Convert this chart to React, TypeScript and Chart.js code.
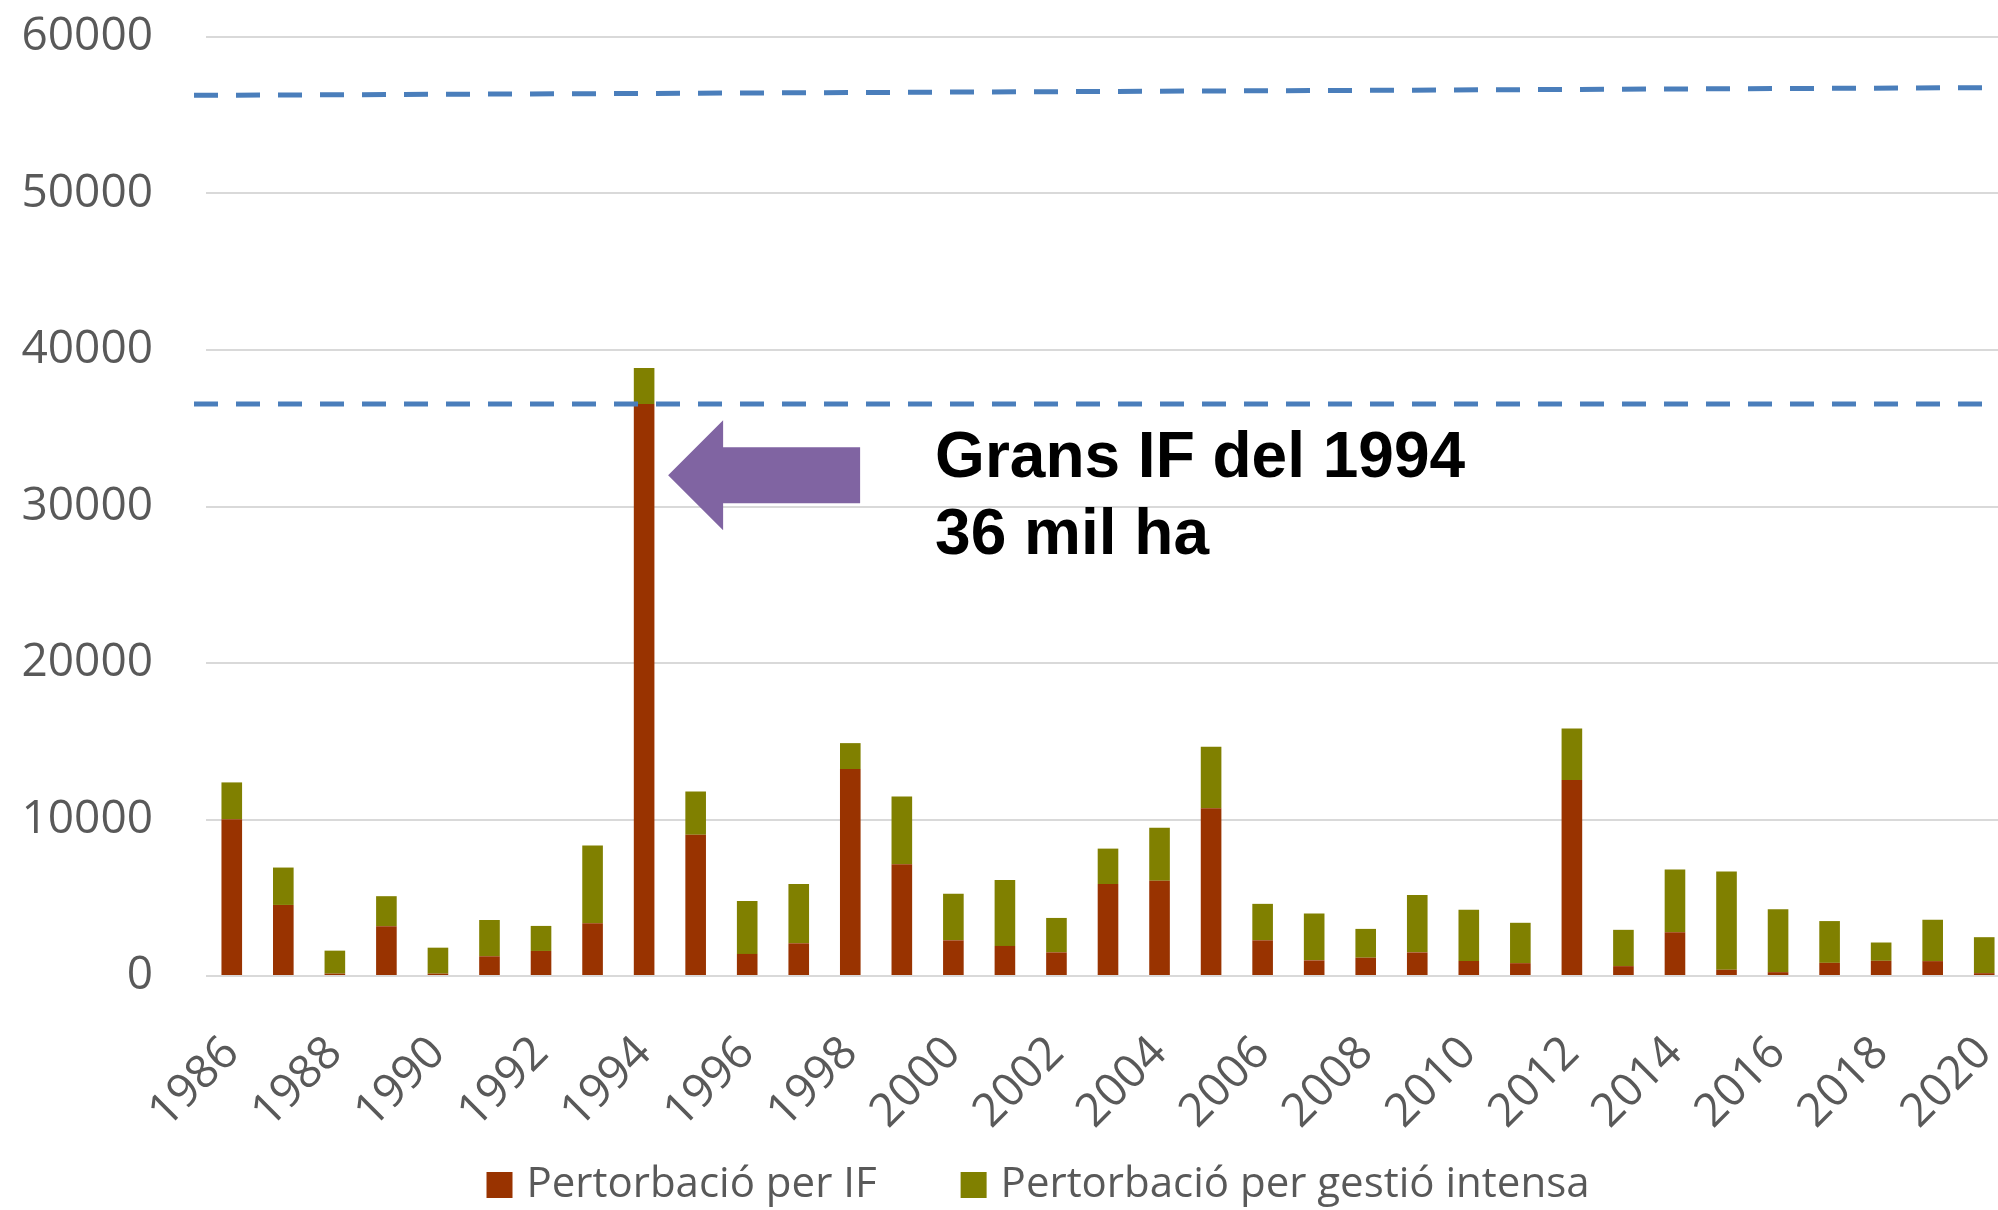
import React, { useEffect, useRef } from 'react';
import { Chart, registerables } from 'chart.js';

Chart.register(...registerables);

const years = [
  '1986', '1987', '1988', '1989', '1990', '1991', '1992', '1993', '1994', '1995',
  '1996', '1997', '1998', '1999', '2000', '2001', '2002', '2003', '2004', '2005',
  '2006', '2007', '2008', '2009', '2010', '2011', '2012', '2013', '2014', '2015',
  '2016', '2017', '2018', '2019', '2020',
];

// Pertorbació per incendis forestals (ha)
const fireDisturbance = [
  10020, 4540, 150, 3180, 150, 1260, 1600, 3370, 36550, 9020,
  1410, 2090, 13220, 7140, 2280, 1920, 1510, 5880, 6080, 10720,
  2280, 1000, 1170, 1510, 960, 820, 12520, 630, 2800, 400,
  245, 840, 970, 950, 180,
];

// Pertorbació per gestió intensa (ha)
const managementDisturbance = [
  2350, 2390, 1470, 1920, 1660, 2320, 1600, 4970, 2300, 2770,
  3390, 3790, 1660, 4330, 2970, 4220, 2200, 2260, 3390, 3930,
  2330, 2990, 1840, 3670, 3280, 2580, 3290, 2320, 4010, 6280,
  4025, 2670, 1170, 2640, 2300,
];

const yTickValues = [0, 10000, 20000, 30000, 40000, 50000, 60000];

// dashed reference lines: [value at left end, value at right end]
const upperRefLine = [56270, 56770];
const lowerRefLine = [36550, 36550];

const annotationYear = '1994';
const arrowValue = 32000;
const annotationLines = ['Grans IF del 1994', '36 mil ha'];

const seriesLabels = ['Pertorbació per IF', 'Pertorbació per gestió intensa'];
const seriesColors = ['#993300', '#808000'];

const TICK_COLOR = '#595959';
const FONT = '"Open Sans", "DejaVu Sans", sans-serif';

const overlayPlugin = {
  id: 'overlay',
  afterDatasetsDraw(chart: any) {
    const { ctx, chartArea, scales } = chart;
    const xs = scales.x;
    const ys = scales.y;
    ctx.save();

    // dashed reference lines
    ctx.strokeStyle = '#4a7ebb';
    ctx.lineWidth = 5;
    ctx.setLineDash([24, 18]);
    const xStart = chartArea.left - 12;
    const xEnd = chart.width;
    for (const ref of [upperRefLine, lowerRefLine]) {
      ctx.beginPath();
      ctx.moveTo(xStart, ys.getPixelForValue(ref[0]));
      ctx.lineTo(xEnd, ys.getPixelForValue(ref[1]));
      ctx.stroke();
    }
    ctx.setLineDash([]);

    // arrow
    const idx = years.indexOf(annotationYear);
    const cx = xs.getPixelForValue(idx);
    const cy = ys.getPixelForValue(arrowValue);
    ctx.fillStyle = '#8064a2';
    ctx.beginPath();
    ctx.moveTo(cx + 24, cy);
    ctx.lineTo(cx + 79, cy - 55);
    ctx.lineTo(cx + 79, cy - 28);
    ctx.lineTo(cx + 216, cy - 28);
    ctx.lineTo(cx + 216, cy + 28);
    ctx.lineTo(cx + 79, cy + 28);
    ctx.lineTo(cx + 79, cy + 55);
    ctx.closePath();
    ctx.fill();

    // annotation text
    ctx.fillStyle = '#000000';
    ctx.font = 'bold 64px "Liberation Sans", Arial, sans-serif';
    ctx.textAlign = 'left';
    ctx.textBaseline = 'alphabetic';
    ctx.fillText(annotationLines[0], cx + 291, cy + 2);
    ctx.fillText(annotationLines[1], cx + 291, cy + 79);
    ctx.restore();
  },
};

export default function App() {
  const canvasRef = useRef<HTMLCanvasElement | null>(null);

  useEffect(() => {
    if (!canvasRef.current) return;
    const chart = new Chart(canvasRef.current, {
      type: 'bar',
      data: {
        labels: years,
        datasets: [
          {
            label: seriesLabels[0],
            data: fireDisturbance,
            backgroundColor: seriesColors[0],
            borderWidth: 0,
            barPercentage: 0.4,
            categoryPercentage: 1,
          },
          {
            label: seriesLabels[1],
            data: managementDisturbance,
            backgroundColor: seriesColors[1],
            borderWidth: 0,
            barPercentage: 0.4,
            categoryPercentage: 1,
          },
        ],
      },
      options: {
        responsive: false,
        animation: false,
        devicePixelRatio: 1,
        layout: { padding: { top: 37, left: 73, right: 0, bottom: 0 } },
        plugins: {
          tooltip: { enabled: false },
          legend: {
            position: 'bottom',
            labels: {
              usePointStyle: true,
              pointStyle: 'rect',
              boxWidth: 12,
              boxHeight: 26,
              padding: 91,
              color: TICK_COLOR,
              font: { family: FONT, size: 42 },
            },
          },
        },
        scales: {
          x: {
            stacked: true,
            grid: { display: false, drawTicks: false },
            border: { display: false },
            ticks: {
              autoSkip: false,
              minRotation: 45,
              maxRotation: 45,
              padding: 50,
              color: TICK_COLOR,
              font: { family: FONT, size: 46 },
              callback: (_v: any, i: number) => (i % 2 === 0 ? years[i] : ''),
            },
            afterFit: (s: any) => {
              s.height = 97;
              s.paddingLeft = 0;
              s.paddingRight = 0;
              s._computeLabelArea = () => undefined;
            },
          },
          y: {
            stacked: true,
            min: yTickValues[0],
            max: yTickValues[yTickValues.length - 1],
            afterBuildTicks: (s: any) => {
              s.ticks = yTickValues.map((v) => ({ value: v }));
            },
            grid: { color: '#d9d9d9', lineWidth: 2, drawTicks: false },
            border: { display: false },
            ticks: {
              padding: 53,
              color: TICK_COLOR,
              font: { family: FONT, size: 46 },
              callback: (v: any) => String(v),
            },
            afterFit: (s: any) => {
              s.width = 133;
              s.paddingTop = 0;
              s.paddingBottom = 0;
              s._computeLabelArea = () => undefined;
            },
          },
        },
      },
      plugins: [overlayPlugin],
    });
    return () => chart.destroy();
  }, []);

  return (
    <div
      style={{
        position: 'fixed',
        left: 0,
        top: 0,
        width: 1998,
        height: 1210,
        overflow: 'hidden',
        background: '#ffffff',
      }}
    >
      <canvas ref={canvasRef} width={2010} height={1216} style={{ display: 'block' }} />
    </div>
  );
}
